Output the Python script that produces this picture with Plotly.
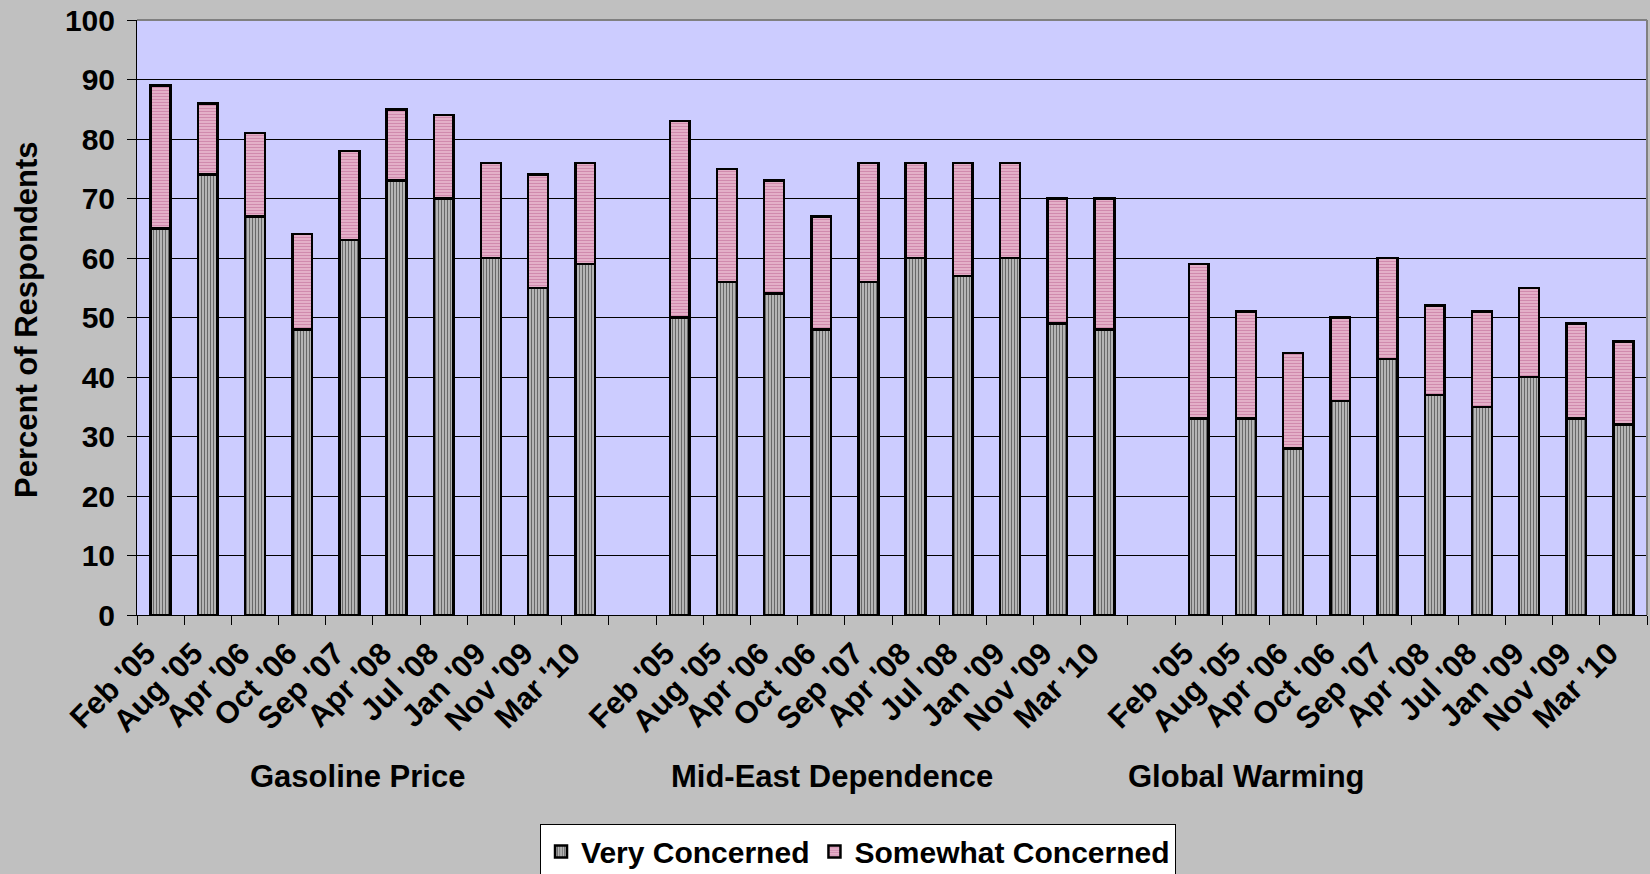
import plotly.graph_objects as go

# Survey waves, repeated for each issue
waves = ["Feb '05", "Aug '05", "Apr '06", "Oct '06", "Sep '07",
         "Apr '08", "Jul '08", "Jan '09", "Nov '09", "Mar '10"]
issues = ["Gasoline Price", "Mid-East Dependence", "Global Warming"]

# Percent "very concerned" per wave
gas_very = [65, 74, 67, 48, 63, 73, 70, 60, 55, 59]
mideast_very = [50, 56, 54, 48, 56, 60, 57, 60, 49, 48]
warming_very = [33, 33, 28, 36, 43, 37, 35, 40, 33, 32]

# Percent "somewhat concerned" per wave (stacked on top)
gas_somewhat = [24, 12, 14, 16, 15, 12, 14, 16, 19, 17]
mideast_somewhat = [33, 19, 19, 19, 20, 16, 19, 16, 21, 22]
warming_somewhat = [26, 18, 16, 14, 17, 15, 16, 15, 16, 14]

y_ticks = list(range(0, 101, 10))

# Lay the three issue groups side by side with one empty slot between them
x_pos, very, somewhat, labels = [], [], [], []
slot = 0
for g, (v_list, s_list) in enumerate([(gas_very, gas_somewhat),
                                      (mideast_very, mideast_somewhat),
                                      (warming_very, warming_somewhat)]):
    for w, v, s in zip(waves, v_list, s_list):
        x_pos.append(slot)
        very.append(v)
        somewhat.append(s)
        labels.append(w)
        slot += 1
    slot += 1
n_slots = slot - 1  # 32 slots in total

FONT = "Liberation Sans, Arial, sans-serif"

fig = go.Figure()
fig.add_trace(go.Bar(
    x=x_pos, y=very, name="Very Concerned",
    marker=dict(color="#A8A8A8",
                line=dict(color="black", width=2.5),
                pattern=dict(shape="|", fgcolor="#101010", bgcolor="#C0C0C0",
                             size=3, solidity=0.42)),
))
fig.add_trace(go.Bar(
    x=x_pos, y=somewhat, name="Somewhat Concerned",
    marker=dict(color="#D890B8",
                line=dict(color="black", width=2.5),
                pattern=dict(shape="-", fgcolor="#B04C80", bgcolor="#F0C8DA",
                             size=3, solidity=0.6)),
))

L, R, T, B = 137, 3, 20, 259
# wave labels hang slightly left of each bar's centre
label_pos = [x - 0.3 for x in x_pos]

fig.update_layout(
    width=1650, height=874,
    margin=dict(l=L, r=R, t=T, b=B, autoexpand=False),
    barmode="stack", bargap=0.58,
    paper_bgcolor="#C0C0C0", plot_bgcolor="#CCCCFF",
    font=dict(family=FONT, size=29, color="black", weight="bold"),
    showlegend=True,
    legend=dict(orientation="h", x=0.4775, xanchor="center", y=-0.352, yanchor="top",
                bgcolor="white", bordercolor="black", borderwidth=1,
                font=dict(family=FONT, size=30, weight="bold"),
                traceorder="normal", itemwidth=30),
    xaxis=dict(range=[-0.5, n_slots - 0.5], tickmode="array",
               tickvals=label_pos, ticktext=labels, tickangle=-45,
               ticks="", showgrid=False, zeroline=False,
               showline=True, linecolor="black", linewidth=1,
               ticklabelstandoff=7, automargin=False,
               tickfont=dict(family=FONT, size=31, weight="bold"),
               minor=dict(tickmode="array",
                          tickvals=[i - 0.5 for i in range(n_slots + 1)],
                          ticks="outside", ticklen=9, tickcolor="black",
                          tickwidth=1, showgrid=False)),
    yaxis=dict(range=[0, 100], tickmode="array", tickvals=y_ticks,
               showgrid=True, gridcolor="black", gridwidth=1,
               zeroline=False, showline=True, linecolor="black", linewidth=1,
               ticks="outside", ticklen=9, tickcolor="black",
               ticklabelstandoff=6, automargin=False,
               tickfont=dict(family=FONT, size=30, weight="bold")),
)

# Gray border along the top and right of the plot area
fig.add_shape(type="line", xref="paper", yref="paper", x0=0, x1=1, y0=1, y1=1,
              line=dict(color="#808080", width=2), layer="above")
fig.add_shape(type="line", xref="paper", yref="paper", x0=1, x1=1, y0=0, y1=1,
              line=dict(color="#808080", width=2), layer="above")

# Issue captions beneath the wave labels
plot_w = 1650 - L - R
plot_h = 874 - T - B
for name, cx in zip(issues, [357, 832, 1246]):
    fig.add_annotation(text=name, xref="paper", yref="paper",
                       x=(cx - L) / plot_w, y=(615 - 776) / plot_h,
                       xanchor="center", yanchor="middle", showarrow=False,
                       font=dict(family=FONT, size=31, weight="bold"))

fig.add_annotation(text="Percent of Respondents", xref="paper", yref="paper",
                   x=(26 - L) / plot_w, y=(615 - 320) / plot_h, textangle=-90,
                   xanchor="center", yanchor="middle", showarrow=False,
                   font=dict(family=FONT, size=31, weight="bold"))

fig.write_html("out.html")
